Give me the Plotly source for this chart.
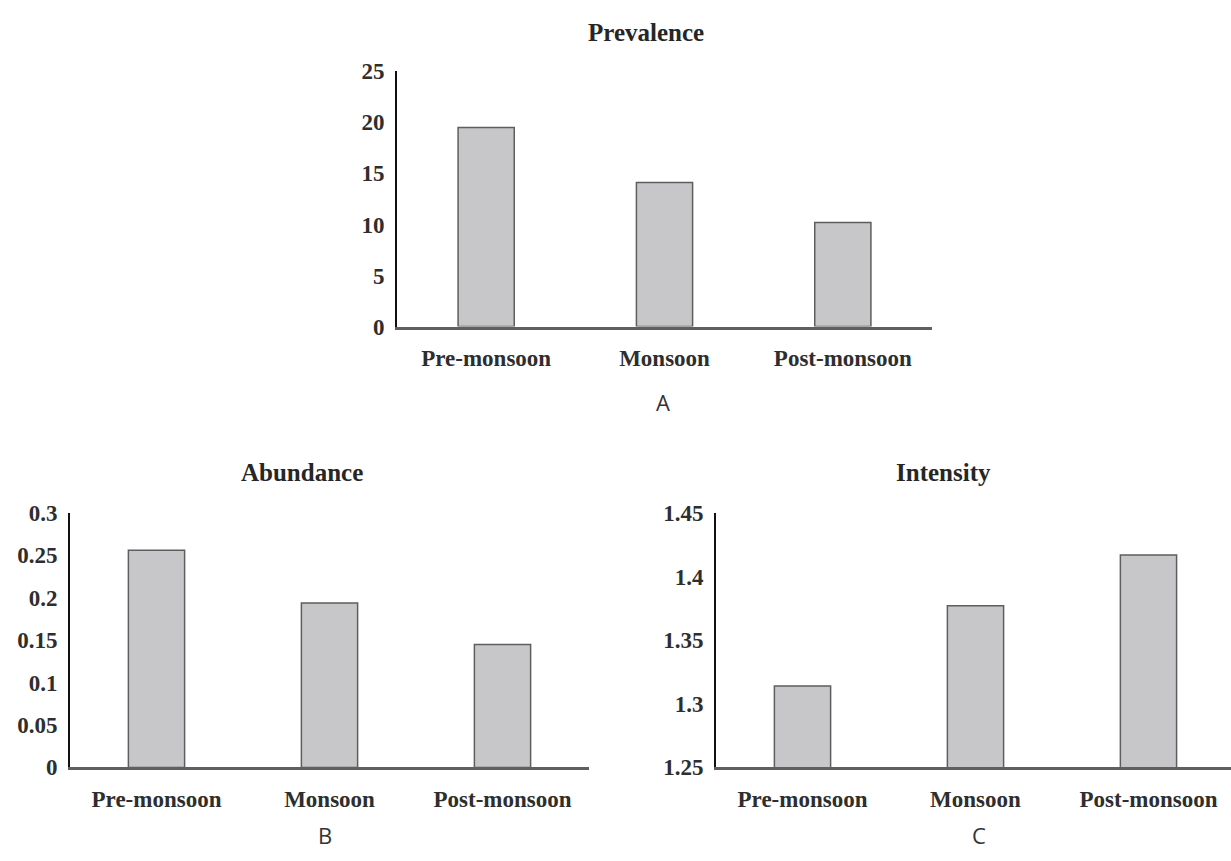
import plotly.graph_objects as go

categories = ["Pre-monsoon", "Monsoon", "Post-monsoon"]
prevalence = [19.5, 14.1, 10.2]
abundance = [0.256, 0.194, 0.145]
intensity = [1.314, 1.377, 1.417]

prev_ticks = [0, 5, 10, 15, 20, 25]
abun_ticks = [0, 0.05, 0.1, 0.15, 0.2, 0.25, 0.3]
abun_ticklabels = ["0", "0.05", "0.1", "0.15", "0.2", "0.25", "0.3"]
inten_ticks = [1.25, 1.3, 1.35, 1.4, 1.45]
inten_ticklabels = ["1.25", "1.3", "1.35", "1.4", "1.45"]

W, H = 1231, 861
SERIF = "Liberation Serif"
BAR_FILL = "#c7c7c9"
BAR_LINE = "#5e5e5e"

fig = go.Figure()

def add_bars(vals, xa, ya, w):
    fig.add_trace(go.Bar(
        x=categories, y=vals, xaxis=xa, yaxis=ya,
        marker=dict(color=BAR_FILL, line=dict(color=BAR_LINE, width=1.5)),
        width=w, showlegend=False, hoverinfo="x+y",
    ))

add_bars(prevalence, "x", "y", 0.315)
add_bars(abundance, "x2", "y2", 0.325)
add_bars(intensity, "x3", "y3", 0.325)

tickfont = dict(family=SERIF, size=23, color="#2e2e2e", weight="bold")

def xaxis(domain, rng, anchor):
    return dict(domain=domain, range=rng, anchor=anchor, showline=True,
                linecolor="#5f5f5f", linewidth=3, showgrid=False, zeroline=False,
                ticks="", tickfont=tickfont, ticklabelstandoff=9, fixedrange=True)

def yaxis(domain, rng, anchor, tickvals, ticktext):
    return dict(domain=domain, range=rng, anchor=anchor, showline=True,
                linecolor="#111111", linewidth=1.8, showgrid=False, zeroline=False,
                ticks="", tickvals=tickvals, ticktext=ticktext, tickfont=tickfont,
                ticklabelstandoff=6, fixedrange=True)

fig.update_layout(
    width=W, height=H,
    margin=dict(l=0, r=0, t=0, b=0),
    paper_bgcolor="white", plot_bgcolor="white",
    xaxis=xaxis([397 / W, 932 / W], [-0.5, 2.5], "y"),
    yaxis=yaxis([1 - 324 / H, 1 - 61 / H], [0, 25], "x", prev_ticks,
                [str(t) for t in prev_ticks]),
    xaxis2=xaxis([70 / W, 589 / W], [-0.5, 2.5], "y2"),
    yaxis2=yaxis([1 - 778 / H, 1 - 516 / H], [0, 0.3], "x2", abun_ticks, abun_ticklabels),
    xaxis3=xaxis([716 / W, 1.0], [-0.5, 2.477], "y3"),
    yaxis3=yaxis([1 - 778 / H, 1 - 516 / H], [1.25, 1.45], "x3", inten_ticks, inten_ticklabels),
)

titlefont = dict(family=SERIF, size=25, color="#262626", weight="bold")
letterfont = dict(family="Open Sans", size=22, color="#333333")

def ann(text, x, y, font):
    fig.add_annotation(text=text, x=x / W, y=1 - y / H, xref="paper", yref="paper",
                       showarrow=False, font=font, xanchor="center", yanchor="middle")

ann("Prevalence", 646, 21, titlefont)
ann("Abundance", 302, 474, titlefont)
ann("Intensity", 943, 474, titlefont)
ann("A", 663, 402, letterfont)
ann("B", 325, 848, letterfont)
ann("C", 979, 848, letterfont)

fig.write_html(
    "out.html",
    config={"displayModeBar": False},
    post_script="document.body.style.margin='0';document.body.style.overflow='hidden';",
)
